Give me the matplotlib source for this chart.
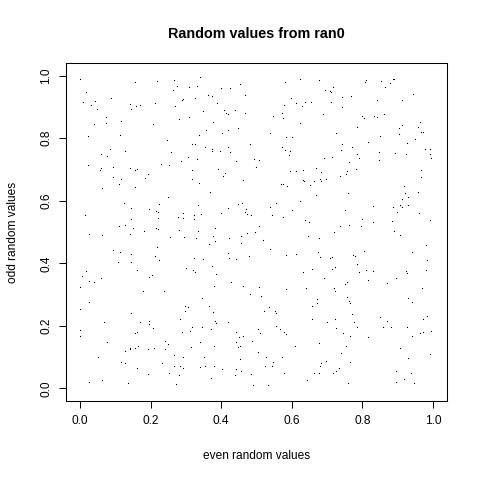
import matplotlib
matplotlib.use("Agg")
import matplotlib.pyplot as plt

plt.rcParams['font.family'] = ['Liberation Sans', 'DejaVu Sans']

# pairs of ran0 output: (even value, odd value)
pts = [
    # upper left
    (0.0, 0.988), (0.157, 0.979), (0.219, 0.983), (0.018, 0.947), (0.088, 0.928), (0.007, 0.915),
    (0.041, 0.918), (0.032, 0.906), (0.142, 0.909), (0.145, 0.892), (0.158, 0.902), (0.171, 0.906),
    (0.212, 0.912), (0.049, 0.892), (0.072, 0.867), (0.117, 0.854), (0.072, 0.848), (0.038, 0.846),
    (0.208, 0.846), (0.021, 0.806), (0.114, 0.809), (0.086, 0.766), (0.126, 0.758), (0.058, 0.749),
    (0.075, 0.742), (0.021, 0.713), (0.058, 0.704), (0.055, 0.697), (0.094, 0.707), (0.142, 0.704),
    (0.157, 0.698), (0.162, 0.700), (0.193, 0.686),
    (0.339, 0.996), (0.265, 0.987), (0.274, 0.967), (0.263, 0.955), (0.309, 0.963), (0.332, 0.967),
    (0.399, 0.960), (0.425, 0.960), (0.454, 0.972), (0.292, 0.926), (0.289, 0.922), (0.326, 0.928),
    (0.363, 0.938), (0.375, 0.934), (0.468, 0.937), (0.389, 0.912), (0.270, 0.902), (0.409, 0.891),
    (0.440, 0.890), (0.349, 0.886), (0.413, 0.881), (0.420, 0.876), (0.468, 0.879), (0.310, 0.867),
    (0.281, 0.860), (0.377, 0.851), (0.448, 0.832), (0.358, 0.825), (0.418, 0.827), (0.403, 0.817),
    (0.338, 0.809), (0.247, 0.794), (0.318, 0.780), (0.325, 0.780), (0.355, 0.773), (0.420, 0.773),
    (0.482, 0.780), (0.373, 0.764), (0.375, 0.759), (0.397, 0.759), (0.259, 0.755), (0.425, 0.755),
    (0.307, 0.741), (0.332, 0.732), (0.285, 0.728), (0.442, 0.728), (0.493, 0.732), (0.230, 0.718),
    (0.252, 0.713), (0.508, 0.729), (0.499, 0.708), (0.316, 0.697), (0.391, 0.700), (0.411, 0.687),
    # upper right
    (0.622, 0.989), (0.582, 0.980), (0.676, 0.985), (0.695, 0.953), (0.709, 0.951), (0.716, 0.963),
    (0.710, 0.947), (0.769, 0.935), (0.599, 0.928), (0.741, 0.930), (0.612, 0.913), (0.638, 0.916),
    (0.655, 0.916), (0.711, 0.916), (0.629, 0.902), (0.578, 0.907), (0.743, 0.900), (0.573, 0.880),
    (0.689, 0.876), (0.548, 0.870), (0.574, 0.864), (0.622, 0.847), (0.786, 0.834), (0.539, 0.817),
    (0.724, 0.817), (0.585, 0.803), (0.601, 0.803), (0.743, 0.780), (0.771, 0.771), (0.571, 0.771),
    (0.581, 0.762), (0.595, 0.758), (0.740, 0.762), (0.591, 0.747), (0.784, 0.750), (0.715, 0.741),
    (0.692, 0.735), (0.791, 0.737), (0.763, 0.724), (0.668, 0.704), (0.633, 0.699), (0.596, 0.694),
    (0.611, 0.694), (0.682, 0.693), (0.782, 0.700), (0.757, 0.696), (0.754, 0.686),
    (0.809, 0.986), (0.807, 0.979), (0.852, 0.984), (0.886, 0.989), (0.891, 0.989), (0.878, 0.976),
    (0.864, 0.963), (0.943, 0.941), (0.842, 0.921), (0.912, 0.921), (0.800, 0.872), (0.804, 0.863),
    (0.833, 0.872), (0.842, 0.867), (0.861, 0.876), (0.963, 0.851), (0.912, 0.841), (0.959, 0.835),
    (0.905, 0.832), (0.965, 0.820), (0.973, 0.820), (0.905, 0.813), (0.851, 0.806), (0.949, 0.797),
    (0.816, 0.789), (0.927, 0.785), (0.977, 0.764), (0.993, 0.764), (0.893, 0.752), (0.924, 0.748),
    (0.848, 0.756), (0.993, 0.748), (0.995, 0.738), (0.848, 0.730), (0.966, 0.698),
    # middle left
    (0.094, 0.675), (0.117, 0.669), (0.185, 0.672), (0.109, 0.653), (0.063, 0.640), (0.157, 0.643),
    (0.123, 0.592), (0.145, 0.576), (0.196, 0.574), (0.214, 0.566), (0.220, 0.563), (0.225, 0.589),
    (0.015, 0.553), (0.145, 0.541), (0.222, 0.544), (0.126, 0.521), (0.111, 0.518), (0.151, 0.512),
    (0.216, 0.512), (0.222, 0.509), (0.140, 0.493), (0.182, 0.502), (0.026, 0.493), (0.063, 0.489),
    (0.094, 0.441), (0.114, 0.435), (0.145, 0.429), (0.219, 0.451), (0.213, 0.422), (0.225, 0.409),
    (0.106, 0.403), (0.143, 0.403), (0.018, 0.374), (0.162, 0.377), (0.004, 0.358), (0.203, 0.362),
    (0.196, 0.355), (0.026, 0.342), (0.038, 0.339), (0.058, 0.352), (0.0, 0.323),
    (0.406, 0.678), (0.318, 0.669), (0.462, 0.665), (0.338, 0.656), (0.369, 0.627), (0.250, 0.611),
    (0.448, 0.589), (0.459, 0.592), (0.335, 0.585), (0.420, 0.576), (0.471, 0.572), (0.468, 0.563),
    (0.474, 0.556), (0.485, 0.553), (0.400, 0.560), (0.343, 0.557), (0.292, 0.560), (0.324, 0.553),
    (0.278, 0.547), (0.292, 0.544), (0.324, 0.541), (0.508, 0.518), (0.383, 0.512), (0.281, 0.505),
    (0.335, 0.502), (0.474, 0.496), (0.496, 0.499), (0.256, 0.483), (0.295, 0.483), (0.329, 0.480),
    (0.377, 0.486), (0.423, 0.480), (0.457, 0.486), (0.383, 0.470), (0.366, 0.461), (0.457, 0.464),
    (0.420, 0.432), (0.479, 0.422), (0.324, 0.416), (0.349, 0.413), (0.423, 0.416), (0.442, 0.413),
    (0.375, 0.390), (0.301, 0.384), (0.321, 0.377), (0.326, 0.371), (0.386, 0.365), (0.428, 0.339),
    (0.380, 0.326), (0.462, 0.329), (0.508, 0.325),
    # middle right
    (0.737, 0.678), (0.632, 0.665), (0.635, 0.662), (0.663, 0.662), (0.680, 0.669), (0.683, 0.662),
    (0.697, 0.669), (0.570, 0.653), (0.576, 0.653), (0.587, 0.646), (0.652, 0.649), (0.760, 0.624),
    (0.669, 0.617), (0.624, 0.598), (0.556, 0.592), (0.539, 0.579), (0.601, 0.569), (0.751, 0.569),
    (0.544, 0.553), (0.576, 0.547), (0.638, 0.537), (0.649, 0.531), (0.737, 0.518), (0.762, 0.521),
    (0.720, 0.499), (0.646, 0.486), (0.677, 0.480), (0.519, 0.473), (0.539, 0.445), (0.675, 0.435),
    (0.584, 0.425), (0.612, 0.429), (0.680, 0.419), (0.709, 0.416), (0.714, 0.419), (0.774, 0.425),
    (0.779, 0.422), (0.785, 0.397), (0.723, 0.387), (0.714, 0.381), (0.658, 0.381), (0.632, 0.373),
    (0.791, 0.371), (0.692, 0.352), (0.757, 0.339), (0.751, 0.333), (0.720, 0.320), (0.641, 0.320),
    (0.584, 0.317),
    (0.966, 0.675), (0.918, 0.646), (0.921, 0.624), (0.959, 0.627), (0.929, 0.611), (0.912, 0.605),
    (0.830, 0.582), (0.887, 0.579), (0.907, 0.585), (0.912, 0.579), (0.929, 0.585), (0.898, 0.563),
    (0.960, 0.560), (0.799, 0.541), (0.830, 0.531), (0.884, 0.534), (0.992, 0.537), (0.796, 0.518),
    (0.890, 0.502), (0.907, 0.489), (0.980, 0.457), (0.941, 0.435), (0.805, 0.438), (0.983, 0.409),
    (0.810, 0.377), (0.830, 0.374), (0.924, 0.374), (0.926, 0.368), (0.980, 0.377), (0.816, 0.346),
    (0.870, 0.336), (0.895, 0.352), (0.969, 0.320),
    # lower left
    (0.179, 0.313), (0.024, 0.275), (0.001, 0.253), (0.145, 0.240), (0.069, 0.214), (0.171, 0.214),
    (0.196, 0.217), (0.196, 0.205), (0.208, 0.192), (0.001, 0.186), (0.0, 0.169), (0.157, 0.176),
    (0.160, 0.179), (0.077, 0.147), (0.165, 0.137), (0.126, 0.121), (0.140, 0.128), (0.142, 0.125),
    (0.157, 0.128), (0.193, 0.125), (0.210, 0.128), (0.052, 0.102), (0.117, 0.086), (0.126, 0.083),
    (0.160, 0.067), (0.193, 0.045), (0.026, 0.022), (0.063, 0.026), (0.137, 0.019),
    (0.239, 0.310), (0.346, 0.288), (0.482, 0.301), (0.298, 0.262), (0.307, 0.259), (0.366, 0.265),
    (0.298, 0.246), (0.377, 0.243), (0.284, 0.221), (0.383, 0.217), (0.386, 0.208), (0.420, 0.211),
    (0.318, 0.195), (0.346, 0.198), (0.312, 0.185), (0.372, 0.189), (0.290, 0.179), (0.442, 0.182),
    (0.505, 0.189), (0.462, 0.169), (0.451, 0.163), (0.242, 0.153), (0.341, 0.150), (0.488, 0.153),
    (0.250, 0.141), (0.442, 0.147), (0.448, 0.134), (0.454, 0.137), (0.242, 0.125), (0.315, 0.134),
    (0.380, 0.137), (0.505, 0.115), (0.267, 0.106), (0.292, 0.102), (0.352, 0.099), (0.454, 0.093),
    (0.233, 0.083), (0.267, 0.073), (0.284, 0.073), (0.292, 0.067), (0.341, 0.070), (0.355, 0.073),
    (0.380, 0.073), (0.403, 0.061), (0.442, 0.061), (0.457, 0.057), (0.253, 0.051), (0.281, 0.042),
    (0.372, 0.035), (0.440, 0.042), (0.485, 0.045), (0.273, 0.013), (0.491, 0.010),
    # lower right
    (0.723, 0.313), (0.513, 0.294), (0.757, 0.291), (0.762, 0.281), (0.765, 0.272), (0.672, 0.285),
    (0.672, 0.272), (0.658, 0.265), (0.536, 0.259), (0.522, 0.249), (0.553, 0.249), (0.556, 0.240),
    (0.771, 0.237), (0.658, 0.221), (0.723, 0.221), (0.700, 0.214), (0.776, 0.214), (0.785, 0.198),
    (0.556, 0.201), (0.567, 0.189), (0.726, 0.192), (0.578, 0.182), (0.584, 0.173), (0.745, 0.176),
    (0.510, 0.176), (0.765, 0.169), (0.677, 0.144), (0.610, 0.137), (0.754, 0.137), (0.740, 0.112),
    (0.527, 0.102), (0.573, 0.099), (0.697, 0.089), (0.765, 0.086), (0.547, 0.086), (0.544, 0.073),
    (0.525, 0.073), (0.683, 0.080), (0.680, 0.073), (0.734, 0.064), (0.726, 0.057), (0.717, 0.051),
    (0.578, 0.048), (0.663, 0.051), (0.677, 0.051), (0.643, 0.026), (0.760, 0.019), (0.533, 0.010),
    (0.929, 0.288), (0.941, 0.275), (0.983, 0.233), (0.972, 0.221), (0.850, 0.227), (0.870, 0.217),
    (0.859, 0.195), (0.881, 0.198), (0.926, 0.198), (0.994, 0.185), (0.972, 0.179), (0.963, 0.176),
    (0.941, 0.169), (0.816, 0.163), (0.907, 0.128), (0.992, 0.109), (0.929, 0.096), (0.895, 0.057),
    (0.938, 0.048), (0.918, 0.029), (0.895, 0.022), (0.946, 0.019),
]
even_vals = [p[0] for p in pts]
odd_vals = [p[1] for p in pts]
ticks = [0.0, 0.2, 0.4, 0.6, 0.8, 1.0]

fig = plt.figure(figsize=(4.8, 4.8), dpi=100)
ax = fig.add_axes([66 / 480, 1 - 401 / 480, 381 / 480, 338 / 480])
ax.plot(even_vals, odd_vals, linestyle='none', marker='s', markersize=0.8,
        markeredgewidth=0, color='black')
ax.set_xlim(-0.04, 1.04)
ax.set_ylim(-0.04, 1.04)
ax.set_xticks(ticks)
ax.set_yticks(ticks)
ax.set_xticklabels([f"{t:.1f}" for t in ticks])
ax.set_yticklabels([f"{t:.1f}" for t in ticks], rotation=90, va='center')
ax.tick_params(length=5, width=0.75, pad=5, labelsize=8.6)
for s in ax.spines.values():
    s.set_linewidth(0.75)

fig.text(0.534, 1 - 34 / 480, "Random values from ran0", ha='center', va='center',
         fontsize=10.4, fontweight='bold')
fig.text(0.534, 1 - 456 / 480, "even random values", ha='center', va='center', fontsize=8.6)
fig.text(13 / 480, 1 - 232 / 480, "odd random values", ha='center', va='center',
         rotation=90, fontsize=8.6)

fig.savefig("out.png", dpi=100)
